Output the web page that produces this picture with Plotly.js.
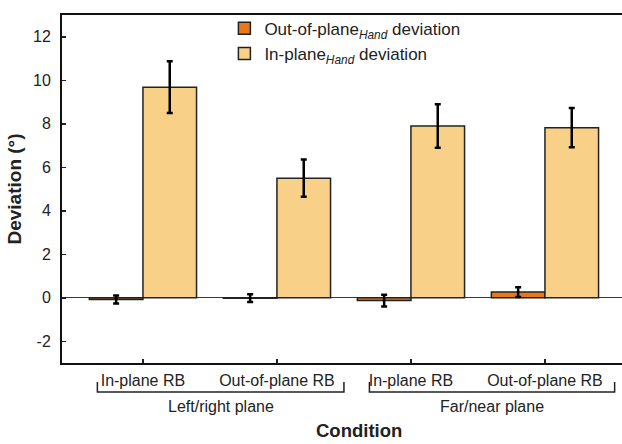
<!DOCTYPE html>
<html>
<head>
<meta charset="utf-8">
<script src="https://cdn.plot.ly/plotly-3.0.1.min.js"></script>
<style>html,body{margin:0;padding:0;background:#fff;overflow:hidden}</style>
</head>
<body>
<div id="chart" style="width:622px;height:444px"></div>
<script>
const categories = ["In-plane RB", "Out-of-plane RB", "In-plane RB ", "Out-of-plane RB "];
const outOfPlane = [-0.08, -0.02, -0.13, 0.26];
const outOfPlaneErr = [0.18, 0.18, 0.27, 0.22];
const inPlane = [9.68, 5.50, 7.90, 7.82];
const inPlaneErr = [1.19, 0.86, 1.00, 0.90];
const groupLabels = ["Left/right plane", "Far/near plane"];
const seriesNames = ["Out-of-plane<sub><i>Hand</i></sub> deviation", "In-plane<sub><i>Hand</i></sub> deviation"];
const yTicks = [-2, 0, 2, 4, 6, 8, 10, 12];
const yTickText = ["-2", "0", "2", "4", "6", "8", "10", "12"];

const xIdx = categories.map((_, i) => i);
const font = {family: "Liberation Sans, Arial, sans-serif", size: 16, color: "#222"};

const traces = [
  {type: "bar", x: xIdx, y: outOfPlane, name: seriesNames[0],
   marker: {color: "#E8781A", line: {color: "#222", width: 1.5}},
   error_y: {type: "data", array: outOfPlaneErr, visible: true, color: "#000", thickness: 2.5, width: 3}},
  {type: "bar", x: xIdx, y: inPlane, name: seriesNames[1],
   marker: {color: "#F8D088", line: {color: "#222", width: 1.5}},
   error_y: {type: "data", array: inPlaneErr, visible: true, color: "#000", thickness: 2.5, width: 3}}
];

const bracketY0 = -0.0546, bracketY1 = -0.0833;
const brackets = [[-0.34, 1.50], [1.69, 3.52]];
const shapes = [];
brackets.forEach(([a, b]) => {
  shapes.push({type: "path", xref: "x", yref: "paper",
    path: `M ${a},${bracketY0} L ${a},${bracketY1} L ${b},${bracketY1} L ${b},${bracketY0}`,
    line: {color: "#222", width: 1.5}});
});

const annotations = brackets.map(([a, b], i) => ({
  x: (a + b) / 2, xref: "x", y: -0.126, yref: "paper", text: groupLabels[i],
  showarrow: false, font: font, yanchor: "middle"
}));
annotations.push({x: 1.61, xref: "x", y: -0.2299, yref: "paper", text: "<b>Condition</b>",
  showarrow: false, font: {family: font.family, size: 18.5, color: "#222"}, yanchor: "bottom"});

const layout = {
  width: 622, height: 444,
  margin: {l: 62, r: 0, t: 15, b: 81},
  paper_bgcolor: "#fff", plot_bgcolor: "#fff",
  font: font,
  barmode: "group", bargap: 0.2, bargroupgap: 0,
  showlegend: true,
  legend: {x: 0.29, xanchor: "left", y: 1.012, yanchor: "top", bgcolor: "rgba(0,0,0,0)",
    font: {family: font.family, size: 17, color: "#222"}, traceorder: "normal", tracegroupgap: 0},
  xaxis: {
    range: [-0.604, 3.575], tickmode: "array", tickvals: xIdx, ticktext: categories.map(s => s.trim()),
    ticks: "inside", ticklen: 4, tickwidth: 1.5, tickcolor: "#222",
    showline: true, linecolor: "#111", linewidth: 2, mirror: true,
    showgrid: false, zeroline: false, tickfont: font, ticklabelstandoff: 2
  },
  yaxis: {
    range: [-3, 13], tickmode: "array", tickvals: yTicks, ticktext: yTickText,
    ticks: "inside", ticklen: 4, tickwidth: 1.5, tickcolor: "#222",
    showline: true, linecolor: "#111", linewidth: 2,
    showgrid: false, zeroline: true, zerolinecolor: "#2B2BA0", zerolinewidth: 1.2,
    tickfont: font, ticklabelstandoff: 6,
    title: {text: "<b>Deviation (°)</b>", font: {family: font.family, size: 19, color: "#222"}, standoff: 6}
  },
  shapes: shapes,
  annotations: annotations
};

Plotly.newPlot("chart", traces, layout, {displayModeBar: false, staticPlot: true});
</script>
</body>
</html>
